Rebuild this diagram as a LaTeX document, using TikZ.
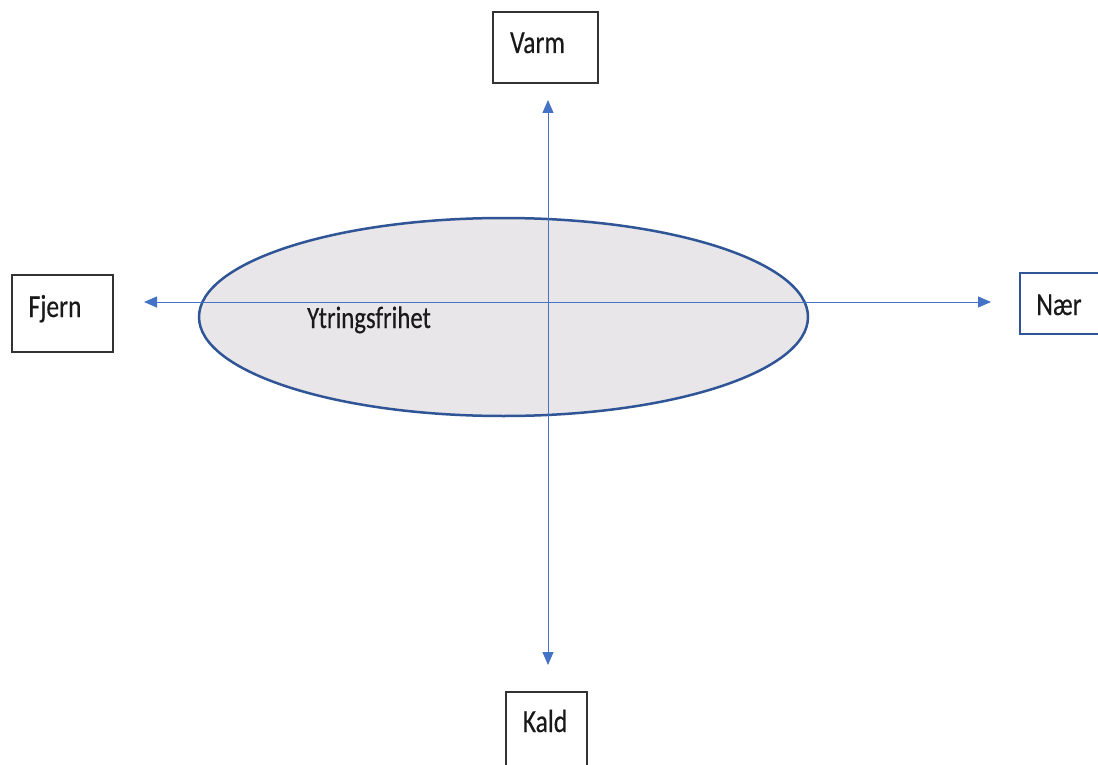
\documentclass[tikz,border=0pt]{standalone}
\usepackage{fontspec}
\setmainfont{Carlito}
\newfontfamily\narrowcal[FakeStretch=0.8,FakeBold=0.3]{Carlito}
\usetikzlibrary{arrows.meta,shapes.geometric}
\definecolor{axisblue}{HTML}{4472C4}
\definecolor{ringblue}{HTML}{2F5597}
\definecolor{fillgray}{HTML}{E8E6E9}
\tikzset{
  labelbox/.style={draw=black!80, line width=1.2pt, fill=white, inner sep=0pt},
  labeltext/.style={anchor=base, inner sep=0pt, text=black!90, font=\narrowcal\fontsize{32}{36}\selectfont},
  axisline/.style={draw=axisblue, line width=1pt, {Triangle[length=13pt,width=11pt]}-{Triangle[length=13pt,width=11pt]}, axisblue},
}
\begin{document}
\begin{tikzpicture}[x=1pt,y=-1pt]
\useasboundingbox (0,0) rectangle (1098,765);
\clip (0,0) rectangle (1098,765);
\fill[white] (0,0) rectangle (1098,765);
% ellipse
\node[draw=ringblue, fill=fillgray, line width=2.5pt, ellipse, minimum width=609pt, minimum height=198pt, inner sep=0pt] (ring) at (503.5,317) {};
\node[labeltext, font=\narrowcal\fontsize{31}{34}\selectfont] (ytr) at (369,328) {Ytringsfrihet};
% boxes
\node[labelbox, minimum width=105pt, minimum height=71pt] (varm) at (545.5,47.5) {};
\node[labeltext] (varmt) at (537.5,53) {Varm};
\node[labelbox, minimum width=101pt, minimum height=77pt] (fjern) at (62.5,313.5) {};
\node[labeltext] (fjernt) at (55,317) {Fjern};
\node[labelbox, draw=ringblue, minimum width=90pt, minimum height=61pt] (naer) at (1065,303.5) {};
\node[labeltext] (naert) at (1059,315) {Nær};
\node[labelbox, minimum width=81pt, minimum height=80pt] (kald) at (546.5,732) {};
\node[labeltext] (kaldt) at (545,732) {Kald};
% axes
\coordinate (vtop) at (548,100);
\coordinate (vbot) at (548,665);
\coordinate (hleft) at (144,302);
\coordinate (hright) at (991,302);
\draw[axisline] (hleft) -- (hright);
\draw[axisline] (vbot) -- (vtop);
\end{tikzpicture}
\end{document}
